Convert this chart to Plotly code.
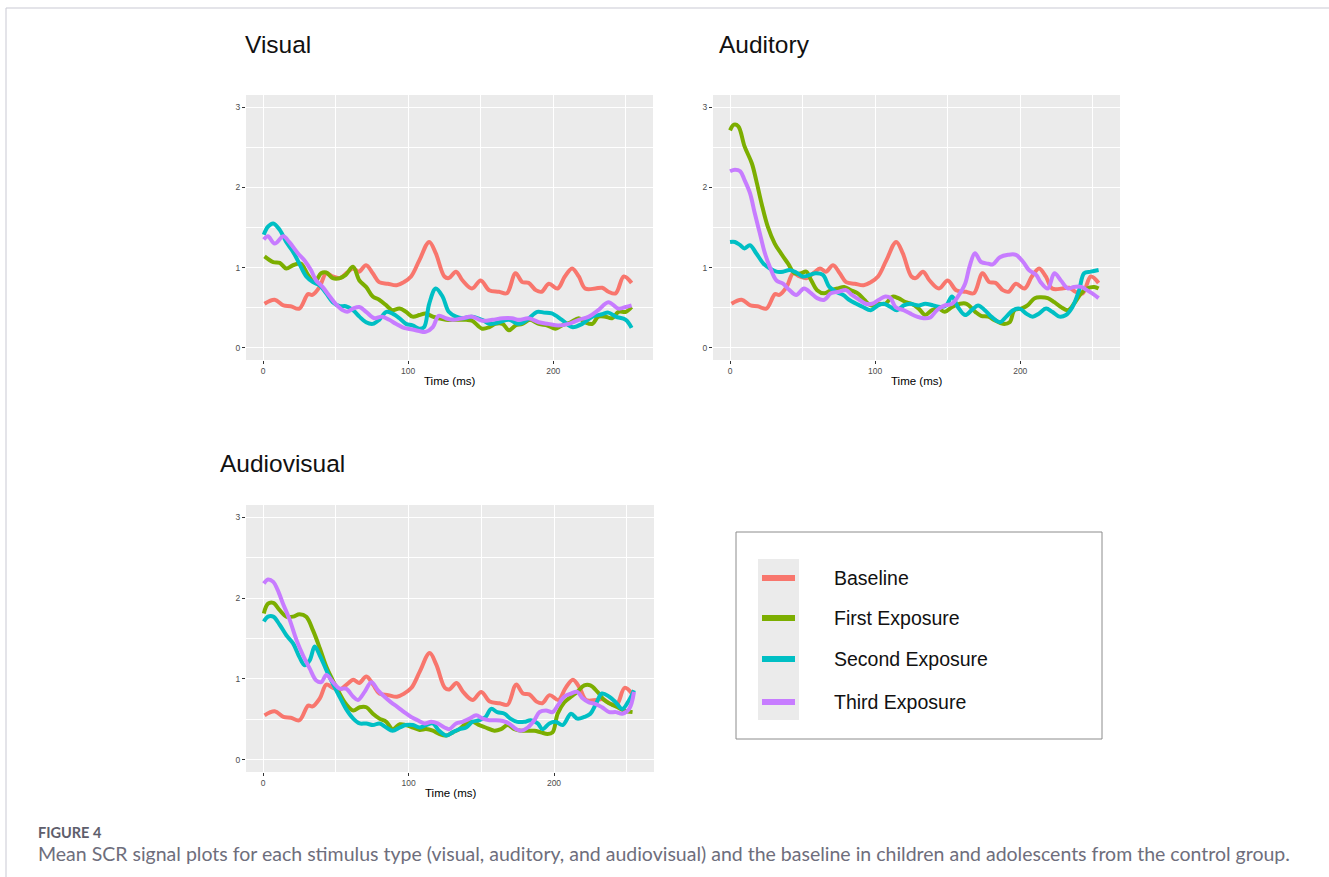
import plotly.graph_objects as go

# ---------------- data ----------------
series_names = ["Baseline", "First Exposure", "Second Exposure", "Third Exposure"]
series_colors = ["#F8766D", "#7CAE00", "#00BFC4", "#C77CFF"]
panel_titles = ["Visual", "Auditory", "Audiovisual"]
x_ticks = [0, 100, 200]
y_ticks = [0, 1, 2, 3]

baseline_t = [1, 8, 14, 19, 25, 31, 34, 39, 43.5, 48, 53, 58, 62, 66, 71, 75.6, 80, 86, 92, 97, 102,
              107.7, 114.5, 119, 125, 128, 133, 137.5, 144, 150, 155.8, 162.6, 168, 174, 178.7, 183,
              188, 192, 197, 203, 208, 213, 217.6, 222, 229, 233.7, 238, 243, 248.6, 254]
baseline_v = [0.55, 0.60, 0.53, 0.52, 0.49, 0.67, 0.66, 0.76, 0.93, 0.89, 0.87, 0.94, 0.99, 0.95, 1.03,
              0.93, 0.82, 0.80, 0.78, 0.82, 0.89, 1.09, 1.32, 1.18, 0.89, 0.87, 0.95, 0.84, 0.74, 0.84,
              0.72, 0.70, 0.68, 0.93, 0.82, 0.81, 0.72, 0.70, 0.80, 0.74, 0.89, 0.99, 0.89, 0.74, 0.74,
              0.75, 0.70, 0.68, 0.89, 0.81]

# Visual
vis_first_t = [1, 7, 11.5, 16, 20.6, 26, 31, 35.5, 40, 43.5, 48, 53, 57, 62, 66.4, 71, 75.6, 80, 85, 89,
               94, 98.5, 103, 107.7, 112, 117, 121, 126, 130.6, 135, 140, 144, 151, 156, 160, 165, 169.5,
               174, 178.7, 184, 190, 196, 201.6, 206, 212, 217.6, 222, 227, 231, 236, 240.5, 245, 250, 254]
vis_first_v = [1.14, 1.07, 1.06, 0.99, 1.03, 1.05, 0.91, 0.82, 0.93, 0.94, 0.87, 0.87, 0.91, 1.01, 0.84,
               0.76, 0.64, 0.60, 0.53, 0.47, 0.49, 0.45, 0.39, 0.41, 0.43, 0.39, 0.37, 0.35, 0.35, 0.35,
               0.35, 0.34, 0.24, 0.26, 0.30, 0.30, 0.22, 0.28, 0.30, 0.35, 0.30, 0.28, 0.24, 0.28, 0.32,
               0.37, 0.32, 0.30, 0.39, 0.39, 0.37, 0.45, 0.45, 0.51]
vis_second_t = [0.5, 3.4, 7, 11.5, 16, 20.6, 25, 29.8, 34.4, 39, 43.5, 48, 53, 57, 62, 66.4, 71, 75.6, 80,
                85, 89, 94, 98.5, 103, 107.7, 111, 114.5, 119, 123.7, 128, 133, 137.5, 144, 151, 156,
                162.6, 169.5, 176.4, 182, 189, 193.6, 199, 206, 213, 220, 227, 233.7, 238, 243, 250, 254]
vis_second_v = [1.41, 1.51, 1.55, 1.47, 1.32, 1.20, 1.05, 0.89, 0.82, 0.78, 0.68, 0.57, 0.52, 0.52, 0.47,
                0.39, 0.32, 0.30, 0.35, 0.45, 0.43, 0.37, 0.30, 0.28, 0.24, 0.26, 0.55, 0.74, 0.64, 0.45,
                0.39, 0.37, 0.39, 0.35, 0.30, 0.32, 0.35, 0.30, 0.35, 0.45, 0.44, 0.43, 0.35, 0.26, 0.30,
                0.39, 0.42, 0.44, 0.39, 0.35, 0.25]
vis_third_t = [0.5, 3.4, 8, 14, 18, 24, 28.6, 33, 36.6, 41, 46, 50, 55, 58, 62, 66.4, 71, 76.7, 82, 87,
               91.6, 97, 103, 107.7, 112, 117, 121, 126, 130.6, 137.5, 144, 151, 158, 165, 171.6, 176.4,
               183, 190, 196.6, 203.5, 210.5, 217.6, 224.6, 231, 238, 245, 250, 254]
vis_third_v = [1.35, 1.39, 1.30, 1.39, 1.32, 1.18, 1.09, 0.97, 0.84, 0.76, 0.64, 0.55, 0.47, 0.45, 0.49,
               0.51, 0.45, 0.37, 0.39, 0.35, 0.30, 0.25, 0.23, 0.21, 0.20, 0.26, 0.40, 0.37, 0.35, 0.37,
               0.39, 0.34, 0.35, 0.37, 0.37, 0.35, 0.37, 0.32, 0.30, 0.28, 0.30, 0.35, 0.39, 0.47, 0.57,
               0.49, 0.51, 0.53]

# Auditory
aud_first_t = [0, 2.7, 5.7, 10, 15, 18, 21.7, 26, 30.8, 35, 40, 44.5, 49, 52.5, 56, 60, 65, 69.5, 74,
               78.7, 83, 88, 92.5, 97, 102, 107, 112, 116, 121, 125, 130, 134.5, 139, 143.7, 148, 153,
               158.5, 163, 169, 173, 178, 182, 188, 192.7, 196, 200.7, 205, 210, 214, 219, 223.5, 228,
               233, 237, 242, 246, 251, 254]
aud_first_v = [2.71, 2.78, 2.76, 2.51, 2.30, 2.09, 1.80, 1.51, 1.30, 1.18, 1.05, 0.93, 0.93, 0.95, 0.84,
               0.72, 0.68, 0.72, 0.74, 0.76, 0.72, 0.68, 0.60, 0.53, 0.55, 0.55, 0.64, 0.62, 0.57, 0.55,
               0.49, 0.41, 0.47, 0.49, 0.45, 0.51, 0.55, 0.55, 0.45, 0.40, 0.39, 0.35, 0.30, 0.32, 0.47,
               0.49, 0.53, 0.62, 0.63, 0.62, 0.57, 0.51, 0.47, 0.55, 0.68, 0.74, 0.76, 0.74]
aud_second_t = [0, 3.4, 7, 10, 13.7, 18, 23, 27.4, 32, 36.5, 41, 45.6, 50, 55, 59, 64, 68.4, 73, 78, 82,
                87, 91.6, 97, 102, 106, 110.6, 115, 119.7, 124, 130, 134.5, 140, 145, 149, 153, 157, 162,
                166.5, 171, 175.6, 180, 186, 190.4, 195, 199.5, 204, 208.6, 213, 217.8, 222, 227, 231.5,
                236, 240.6, 244, 248.6, 254]
aud_second_v = [1.32, 1.32, 1.28, 1.24, 1.28, 1.18, 1.05, 0.99, 0.95, 0.95, 0.97, 0.94, 0.89, 0.91, 0.93,
                0.91, 0.76, 0.70, 0.66, 0.60, 0.55, 0.51, 0.47, 0.53, 0.55, 0.51, 0.47, 0.53, 0.55, 0.53,
                0.55, 0.53, 0.51, 0.53, 0.64, 0.51, 0.41, 0.47, 0.53, 0.47, 0.39, 0.32, 0.39, 0.47, 0.49,
                0.43, 0.39, 0.43, 0.49, 0.45, 0.39, 0.41, 0.51, 0.72, 0.93, 0.95, 0.97]
aud_third_t = [0, 3.4, 7, 10, 13.7, 17, 20.5, 24, 27.4, 32, 36.5, 41, 45.6, 51, 56, 60, 65, 69.5, 75, 80,
               84, 89, 93.5, 98, 102.6, 107, 110.6, 114, 119.7, 124, 128.8, 133.4, 138, 142.5, 148, 153,
               157, 162, 165, 168.8, 173, 178, 181, 186, 191.6, 197, 202, 206, 211, 214, 219, 223.5, 228,
               233, 237, 242, 246, 249.6, 254]
aud_third_v = [2.20, 2.22, 2.20, 2.09, 1.93, 1.68, 1.43, 1.18, 1.01, 0.84, 0.80, 0.72, 0.66, 0.74, 0.68,
               0.62, 0.60, 0.68, 0.70, 0.72, 0.66, 0.60, 0.55, 0.55, 0.60, 0.64, 0.62, 0.51, 0.47, 0.43,
               0.39, 0.37, 0.38, 0.47, 0.53, 0.55, 0.64, 0.80, 1.01, 1.18, 1.07, 1.05, 1.04, 1.13, 1.16,
               1.16, 1.07, 0.97, 0.91, 0.82, 0.74, 0.93, 0.84, 0.74, 0.76, 0.76, 0.72, 0.68, 0.62]

# Audiovisual
av_first_t = [0.5, 3.4, 7, 11.4, 16, 20.6, 25, 29.7, 34.3, 39, 43.5, 48, 52.6, 57, 62, 66.4, 71, 75.5, 80,
              84.7, 89, 94, 98, 103, 107.6, 112, 116.7, 121, 126, 130.4, 135, 139.6, 144, 148.7, 153,
              159, 163.6, 168, 172.8, 177.3, 182, 186.5, 191, 195.6, 199, 202.5, 207, 211.7, 216, 220.8,
              225, 229.9, 234.5, 239, 243.7, 248, 254]
av_first_v = [1.81, 1.93, 1.94, 1.85, 1.77, 1.77, 1.80, 1.77, 1.60, 1.38, 1.15, 0.98, 0.82, 0.69, 0.61,
              0.65, 0.65, 0.57, 0.51, 0.47, 0.38, 0.44, 0.43, 0.40, 0.37, 0.38, 0.36, 0.32, 0.30, 0.34,
              0.38, 0.45, 0.47, 0.43, 0.40, 0.36, 0.38, 0.43, 0.38, 0.36, 0.36, 0.36, 0.34, 0.32, 0.34,
              0.57, 0.71, 0.78, 0.84, 0.92, 0.92, 0.84, 0.74, 0.69, 0.65, 0.61, 0.59]
av_second_t = [0.5, 3.4, 7, 11.4, 16, 20.6, 25, 28.6, 32, 35.5, 39, 43.5, 48, 52.6, 57, 62, 66.4, 71, 75.5,
               80, 84.7, 89, 94, 98, 103, 107.6, 112, 116.7, 121, 126, 130.4, 135, 139.6, 144, 148.7, 153,
               156.8, 161, 166, 170, 174.8, 179.6, 184, 188.8, 192, 196.8, 201, 206, 211.7, 216, 220.8,
               225, 228.8, 233, 238, 242.5, 247, 251.7, 255]
av_second_v = [1.71, 1.77, 1.77, 1.67, 1.54, 1.44, 1.27, 1.17, 1.23, 1.40, 1.29, 1.11, 0.94, 0.78, 0.63,
               0.51, 0.45, 0.45, 0.43, 0.45, 0.40, 0.36, 0.40, 0.43, 0.43, 0.40, 0.43, 0.45, 0.36, 0.30,
               0.34, 0.38, 0.40, 0.47, 0.49, 0.53, 0.63, 0.59, 0.57, 0.51, 0.47, 0.47, 0.49, 0.45, 0.38,
               0.45, 0.47, 0.43, 0.57, 0.51, 0.53, 0.57, 0.69, 0.82, 0.78, 0.71, 0.63, 0.74, 0.86]
av_third_t = [0.5, 3.4, 7, 10, 13.7, 18.3, 23, 27.5, 32, 36.6, 40, 43.5, 48, 52.6, 57, 62, 65.2, 69.8, 74.4,
              79, 83.5, 88, 92.7, 97, 101.8, 106.3, 111, 115.6, 120, 124.7, 128, 132.7, 137, 142, 146.5,
              151, 155.6, 160, 164.8, 169, 174, 177.3, 182, 186.5, 190, 194.5, 199, 202.5, 207, 211.7,
              216, 219.7, 224, 228.8, 233, 238, 242.5, 247, 251.7, 255]
av_third_v = [2.18, 2.23, 2.20, 2.10, 1.93, 1.73, 1.48, 1.29, 1.13, 0.98, 0.96, 1.05, 0.96, 0.88, 0.88,
              0.78, 0.74, 0.84, 0.96, 0.86, 0.78, 0.71, 0.65, 0.59, 0.53, 0.49, 0.45, 0.47, 0.45, 0.40,
              0.38, 0.45, 0.47, 0.51, 0.55, 0.51, 0.49, 0.49, 0.48, 0.45, 0.38, 0.36, 0.40, 0.49, 0.59,
              0.61, 0.59, 0.67, 0.78, 0.82, 0.84, 0.76, 0.71, 0.69, 0.65, 0.59, 0.59, 0.57, 0.63, 0.84]

panels = [
    [(baseline_t, baseline_v), (vis_first_t, vis_first_v), (vis_second_t, vis_second_v), (vis_third_t, vis_third_v)],
    [(baseline_t, baseline_v), (aud_first_t, aud_first_v), (aud_second_t, aud_second_v), (aud_third_t, aud_third_v)],
    [(baseline_t, baseline_v), (av_first_t, av_first_v), (av_second_t, av_second_v), (av_third_t, av_third_v)],
]

# ---------------- figure ----------------
W, H = 1329, 877
# panel boxes in pixels: (left, right, top, bottom)
boxes = [(246, 653, 95, 360), (713, 1120, 95, 360), (246, 654, 505, 772)]

fig = go.Figure()

layout_axes = {}
annotations = []
for i, (box, series) in enumerate(zip(boxes, panels)):
    l, r, t, b = box
    xa = "x" if i == 0 else f"x{i+1}"
    ya = "y" if i == 0 else f"y{i+1}"
    for k, (tt, vv) in enumerate(series):
        fig.add_trace(go.Scatter(
            x=tt, y=vv, mode="lines", xaxis=xa, yaxis=ya, name=series_names[k],
            line=dict(color=series_colors[k], width=4, shape="spline", smoothing=1.0),
            showlegend=False, hoverinfo="skip"))
    axkey = "" if i == 0 else str(i + 1)
    common = dict(showline=False, zeroline=False, ticks="outside", ticklen=3, tickwidth=1,
                  tickcolor="#333333", gridcolor="white", gridwidth=1.4,
                  tickfont=dict(family="Liberation Sans", size=8.5, color="#4D4D4D"))
    layout_axes["xaxis" + axkey] = dict(
        domain=[l / W, r / W], anchor=ya, range=[-11.75, 268.75],
        tickmode="array", tickvals=x_ticks, ticktext=[str(v) for v in x_ticks],
        minor=dict(tickmode="array", tickvals=[50, 150, 250], showgrid=True,
                   gridcolor="white", gridwidth=0.6, ticks=""),
        **common)
    layout_axes["yaxis" + axkey] = dict(
        domain=[1 - b / H, 1 - t / H], anchor=xa, range=[-0.15, 3.15],
        tickmode="array", tickvals=y_ticks, ticktext=[str(v) for v in y_ticks],
        minor=dict(tickmode="array", tickvals=[0.5, 1.5, 2.5], showgrid=True,
                   gridcolor="white", gridwidth=0.6, ticks=""),
        **common)
    annotations.append(dict(text="Time (ms)", x=(l + r) / 2 / W, y=1 - (b + 21) / H,
                            xref="paper", yref="paper", showarrow=False, xanchor="center",
                            yanchor="middle",
                            font=dict(family="Liberation Sans", size=11.5, color="#000000")))

# panel titles
title_pos = [(243, 44), (717, 44), (218, 463)]
for name, (px, py) in zip(panel_titles, title_pos):
    annotations.append(dict(text=name, x=px / W, y=1 - py / H, xref="paper", yref="paper",
                            showarrow=False, xanchor="left", yanchor="middle",
                            font=dict(family="Liberation Sans", size=24.5, color="#111111")))

# caption
annotations.append(dict(text="<b>FIGURE 4</b>", x=36 / W, y=1 - 832 / H, xref="paper", yref="paper",
                        showarrow=False, xanchor="left", yanchor="middle",
                        font=dict(family="Lato", size=14.5, color="#5E5E6C")))
annotations.append(dict(
    text="Mean SCR signal plots for each stimulus type (visual, auditory, and audiovisual) and the baseline in children and adolescents from the control group.",
    x=36 / W, y=1 - 853 / H, xref="paper", yref="paper", showarrow=False,
    xanchor="left", yanchor="middle", font=dict(family="Lato", size=19.5, color="#6E6E7C")))

shapes = [
    # page frame
    dict(type="line", xref="paper", yref="paper", x0=6 / W, x1=1, y0=1 - 8 / H, y1=1 - 8 / H,
         line=dict(color="#C9C9D3", width=1)),
    dict(type="line", xref="paper", yref="paper", x0=6 / W, x1=6 / W, y0=0, y1=1 - 8 / H,
         line=dict(color="#C9C9D3", width=1)),
    # legend box
    dict(type="rect", xref="paper", yref="paper", x0=736 / W, x1=1102 / W,
         y0=1 - 739 / H, y1=1 - 532 / H, line=dict(color="#8C8C8C", width=1), fillcolor="white"),
    # key background
    dict(type="rect", xref="paper", yref="paper", x0=758 / W, x1=799 / W,
         y0=1 - 720 / H, y1=1 - 559 / H, line=dict(width=0), fillcolor="#EBEBEB"),
]

# legend entries (keys + labels)
legend_rows = [578, 618, 659, 702]
for name, color, ry in zip(series_names, series_colors, legend_rows):
    shapes.append(dict(type="line", xref="paper", yref="paper", x0=762 / W, x1=795 / W,
                       y0=1 - ry / H, y1=1 - ry / H, line=dict(color=color, width=6)))
    annotations.append(dict(text=name, x=832 / W, y=1 - ry / H, xref="paper", yref="paper",
                            showarrow=False, xanchor="left", yanchor="middle",
                            font=dict(family="Liberation Sans", size=19.5, color="#111111")))

fig.update_layout(
    width=W, height=H, margin=dict(l=0, r=0, t=0, b=0),
    paper_bgcolor="white", plot_bgcolor="#EBEBEB",
    showlegend=False,
    annotations=annotations, shapes=shapes,
    **layout_axes)

fig.write_html("out.html", config={"displayModeBar": False},
               post_script="document.body.style.margin='0px';")
